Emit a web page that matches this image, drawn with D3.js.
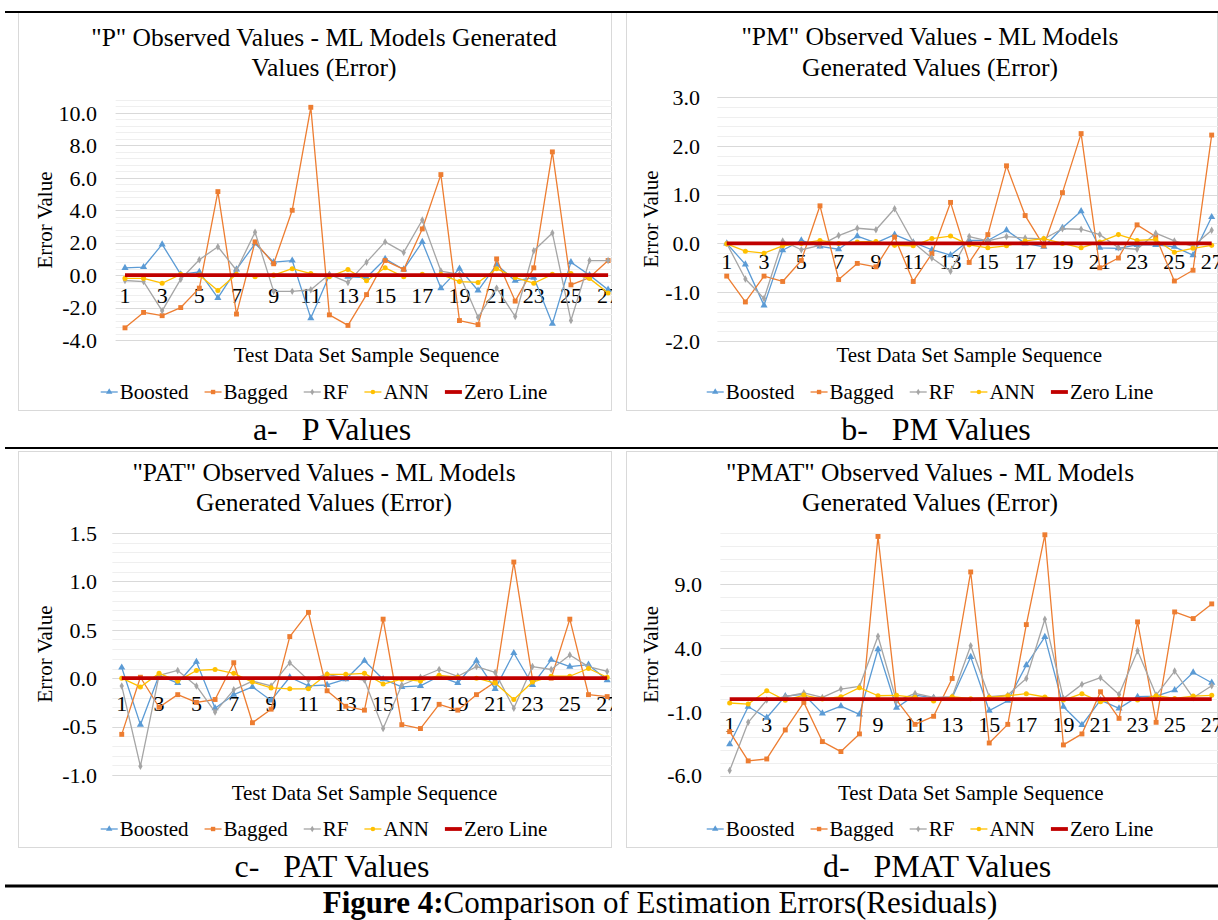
<!DOCTYPE html>
<html><head><meta charset="utf-8">
<script src="https://cdn.jsdelivr.net/npm/d3@7"></script>
<style>
html,body{margin:0;padding:0;background:#fff;}
svg{display:block;font-family:"Liberation Serif","Times New Roman",serif;}
</style></head><body>
<svg id="fig" width="1218" height="920"></svg>
<script>
// ---------- data ----------
const samples = [1,2,3,4,5,6,7,8,9,10,11,12,13,14,15,16,17,18,19,20,21,22,23,24,25,26,27];
const xLabels = [1,3,5,7,9,11,13,15,17,19,21,23,25,27];
const seriesNames = ["Boosted","Bagged","RF","ANN","Zero Line"];
const zeroLine = [0,0,0,0,0,0,0,0,0,0,0,0,0,0,0,0,0,0,0,0,0,0,0,0,0,0,0];

const boostedP = [0.45,0.5,1.9,0.05,0.2,-1.4,0.35,1.95,0.8,0.9,-2.65,0,-0.1,-0.15,1.0,0.35,2.05,-0.8,0.4,-0.95,0.65,-0.35,-0.15,-3.0,0.8,0,-0.9];
const baggedP  = [-3.25,-2.3,-2.5,-2.0,-0.8,5.15,-2.4,2.05,0.7,4.0,10.35,-2.45,-3.1,-1.2,0.9,0.35,2.85,6.2,-2.8,-3.05,1.0,-1.6,0.45,7.6,-0.6,-0.15,0.9];
const rfP      = [-0.33,-0.4,-2.2,-0.25,0.95,1.75,0.3,2.65,-1.0,-1.0,-0.9,0.05,-0.45,0.8,2.05,1.4,3.4,0.25,0.05,-2.6,-0.8,-2.55,1.5,2.6,-2.8,0.9,0.9];
const annP     = [-0.2,-0.2,-0.5,0.05,0,-0.95,0.05,-0.1,0,0.4,0.1,-0.1,0.35,-0.35,0.45,-0.1,0.05,0.05,-0.4,-0.45,0.4,-0.15,-0.5,0.05,0.1,-0.2,-1.1];

const boostedPM = [0,-0.43,-1.27,-0.14,0.06,-0.06,-0.12,0.15,0.01,0.18,0.02,-0.13,-0.24,0.06,0.06,0.27,0,-0.07,0.32,0.66,-0.09,-0.1,-0.03,-0.03,-0.07,-0.24,0.54];
const baggedPM  = [-0.67,-1.2,-0.67,-0.78,-0.35,0.77,-0.74,-0.41,-0.48,0.13,-0.78,-0.21,0.84,-0.39,0.18,1.59,0.57,-0.05,1.04,2.25,-0.5,-0.3,0.38,0.14,-0.77,-0.55,2.22];
const rfPM      = [0,-0.73,-1.13,0.05,-0.13,-0.04,0.16,0.31,0.28,0.71,0.02,-0.3,-0.57,0.14,0.05,0.14,0.11,0.09,0.3,0.29,0.18,-0.09,-0.12,0.21,0.05,-0.06,0.27];
const annPM     = [-0.01,-0.16,-0.2,-0.05,0,0.06,0,0.03,0.04,-0.04,-0.05,0.1,0.15,-0.03,-0.09,-0.05,0.05,0.1,0,-0.09,0.03,0.18,0.06,0.08,-0.18,-0.1,-0.04];

const boostedPAT = [0.11,-0.48,0.03,-0.05,0.17,-0.31,-0.17,-0.09,-0.23,0.01,-0.08,-0.07,-0.01,0.18,-0.01,-0.09,-0.08,0.02,-0.05,0.18,-0.11,0.26,-0.07,0.19,0.12,0.14,-0.02];
const baggedPAT  = [-0.58,0.01,-0.3,-0.17,-0.25,-0.22,0.16,-0.46,-0.32,0.43,0.68,-0.13,-0.29,-0.33,0.61,-0.48,-0.52,-0.27,-0.33,-0.17,-0.04,1.2,-0.01,0,0.61,-0.17,-0.19];
const rfPAT      = [-0.08,-0.91,0.03,0.08,-0.08,-0.35,-0.12,-0.03,-0.08,0.16,-0.02,0.04,0,-0.02,-0.52,-0.07,0.01,0.09,0.02,0.12,0.06,-0.31,0.12,0.09,0.24,0.12,0.07];
const annPAT     = [0,-0.09,0.05,-0.03,0.08,0.09,0.05,-0.04,-0.1,-0.11,-0.11,0.04,0.04,0.05,-0.06,-0.01,-0.03,0.03,0.01,0,-0.05,-0.22,-0.04,0.02,0.02,0.1,0.01];

const boostedPMAT = [-3.54,-0.6,-1.46,0.23,0.36,-1.12,-0.55,-1.2,3.9,-0.68,0.31,0.1,0.1,3.3,-0.91,-0.13,2.66,4.87,-0.6,-2.03,-0.08,-0.73,0.18,0.23,0.7,2.08,1.28];
const baggedPMAT  = [-2.55,-4.84,-4.69,-2.42,-0.26,-3.33,-4.11,-2.73,12.73,-0.08,-1.98,-1.35,1.61,9.95,-3.44,-1.98,5.83,12.86,-3.59,-2.73,0.57,-1.51,6.04,-1.82,6.82,6.3,7.45];
const rfPMAT      = [-5.6,-1.82,-0.08,0.18,0.49,0.13,0.78,0.99,4.92,-0.16,0.44,0.13,0.18,4.17,0.18,0.31,1.61,6.25,0.05,1.15,1.67,0.36,3.78,0.31,2.19,0.1,1.04];
const annPMAT     = [-0.31,-0.39,0.65,-0.1,0.31,0,0.18,0.89,0.26,0.29,0.13,-0.16,0.18,0.03,0.13,0.26,0.42,0.16,-0.08,0.42,-0.21,0,-0.08,0.26,0.05,0.23,0.29];

const ticksP    = [-4,-2,0,2,4,6,8,10];
const ticksPM   = [-2,-1,0,1,2,3];
const ticksPAT  = [-1,-0.5,0,0.5,1,1.5];
const ticksPMAT = [-6,-1,4,9];

const titlesP    = ['"P" Observed Values - ML Models Generated','Values (Error)'];
const titlesPM   = ['"PM" Observed Values - ML Models','Generated Values (Error)'];
const titlesPAT  = ['"PAT" Observed Values - ML Models','Generated Values (Error)'];
const titlesPMAT = ['"PMAT" Observed Values - ML Models','Generated Values (Error)'];
const captions = ["a-   P Values","b-   PM Values","c-   PAT Values","d-   PMAT Values"];
const xAxisTitle = "Test Data Set Sample Sequence";
const yAxisTitle = "Error Value";
const figLabel = "Figure 4:";
const figText = "Comparison of Estimation Errors(Residuals)";

// ---------- styles ----------
const colors = ["#5B9BD5","#ED7D31","#A5A5A5","#FFC000","#C00000"];
const symbols = [d3.symbolTriangle, d3.symbolSquare, d3.symbolDiamond, d3.symbolCircle, null];
const symSizes = [22, 24, 16, 20, 0];

const panels = [
  {series:[boostedP,baggedP,rfP,annP,zeroLine], ticks:ticksP, dom:[-4,10.8], minor:0.4, title:titlesP, caption:captions[0],
   box:[18,12,612,411], plot:{l:115.7,r:617.4,t:100,b:340}, tcx:324, ty:[46,76], yTx:45, tickR:97, axY:362, legY:399, capY:440, capX:332, catDy:28},
  {series:[boostedPM,baggedPM,rfPM,annPM,zeroLine], ticks:ticksPM, dom:[-2,3], minor:0.2, title:titlesPM, caption:captions[1],
   box:[626,12,1218,411], plot:{l:717.4,r:1221,t:97,b:341}, tcx:930, ty:[45,76], yTx:651, tickR:700, axY:362, legY:399, capY:440, capX:936, catDy:26},
  {series:[boostedPAT,baggedPAT,rfPAT,annPAT,zeroLine], ticks:ticksPAT, dom:[-1,1.5], minor:0.1, title:titlesPAT, caption:captions[2],
   box:[18,451,612,848], plot:{l:112.4,r:616.5,t:533,b:775}, tcx:324, ty:[481,511], yTx:45, tickR:97, axY:800, legY:836, capY:877, capX:332, catDy:33},
  {series:[boostedPMAT,baggedPMAT,rfPMAT,annPMAT,zeroLine], ticks:ticksPMAT, dom:[-6,13], minor:1, title:titlesPMAT, caption:captions[3],
   box:[626,451,1218,848], plot:{l:720.4,r:1221,t:533,b:775.7}, tcx:930, ty:[481,511], yTx:651, tickR:702, axY:800, legY:836, capY:877, capX:937, catDy:33}
];

const fmt = d => d3.format(".1f")(d).replace("\u2212","-");

const svg = d3.select("#fig");
svg.append("rect").attr("width",1218).attr("height",920).attr("fill","#fff");

panels.forEach((p,pi)=>{
  const g = svg.append("g");
  const [bx0,by0,bx1,by1] = p.box;
  g.append("rect").attr("x",bx0+0.5).attr("y",by0+0.5).attr("width",bx1-bx0-1).attr("height",by1-by0-1)
    .attr("fill","none").attr("stroke","#d9d9d9").attr("stroke-width",1);
  const clipId = "clip"+pi;
  svg.append("clipPath").attr("id",clipId).append("rect").attr("x",bx0).attr("y",by0).attr("width",bx1-bx0).attr("height",by1-by0);

  const x = d3.scalePoint().domain(samples).range([p.plot.l,p.plot.r]).padding(0.5);
  const y = d3.scaleLinear().domain(p.dom).range([p.plot.b,p.plot.t]);

  const cg = g.append("g").attr("clip-path",`url(#${clipId})`);
  const nMinor = Math.round((p.dom[1]-p.dom[0])/p.minor);
  const minorVals = d3.range(nMinor+1).map(i=>p.dom[0]+i*p.minor);
  cg.selectAll(".mg").data(minorVals).join("line")
    .attr("x1",p.plot.l).attr("x2",p.plot.r)
    .attr("y1",d=>Math.round(y(d))+0.5).attr("y2",d=>Math.round(y(d))+0.5)
    .attr("stroke","#efefef").attr("stroke-width",1);
  cg.selectAll(".Mg").data(p.ticks).join("line")
    .attr("x1",p.plot.l).attr("x2",p.plot.r)
    .attr("y1",d=>Math.round(y(d))+0.5).attr("y2",d=>Math.round(y(d))+0.5)
    .attr("stroke","#d9d9d9").attr("stroke-width",1);

  g.selectAll(".tl").data(p.ticks).join("text")
    .attr("x",p.tickR).attr("y",d=>y(d)).attr("dy","0.35em")
    .attr("text-anchor","end").attr("font-size",22).attr("fill","#000")
    .text(fmt);

  cg.selectAll(".cl").data(xLabels).join("text")
    .attr("x",d=>x(d)).attr("y",y(0)+p.catDy)
    .attr("text-anchor","middle").attr("font-size",22).attr("fill","#000")
    .text(d=>d);

  p.series.forEach((vals,si)=>{
    const pts = samples.map((s,i)=>[x(s),y(vals[i])]);
    const isZero = si===4;
    cg.append("path").attr("d",d3.line()(pts)).attr("fill","none")
      .attr("stroke",colors[si]).attr("stroke-width",isZero?3.8:1.3)
      .attr("stroke-linejoin","round");
    if(!isZero){
      cg.selectAll(null).data(pts).join("path")
        .attr("transform",d=>`translate(${d[0]},${d[1]})`)
        .attr("d",d3.symbol().type(symbols[si]).size(symSizes[si]))
        .attr("fill",colors[si]);
    }
  });

  p.title.forEach((t,i)=>{
    g.append("text").attr("x",p.tcx).attr("y",p.ty[i]).attr("text-anchor","middle")
      .attr("font-size",25.5).attr("fill","#000").text(t);
  });
  g.append("text").attr("x",(p.plot.l+p.plot.r)/2).attr("y",p.axY).attr("text-anchor","middle")
    .attr("font-size",21).attr("fill","#000").text(xAxisTitle);
  g.append("text").attr("transform",`translate(${p.yTx},${(p.plot.t+p.plot.b)/2}) rotate(-90)`)
    .attr("text-anchor","middle").attr("dominant-baseline","central")
    .attr("font-size",21).attr("fill","#000").text(yAxisTitle);

  const lg = g.append("g");
  let cx = 0;
  seriesNames.forEach((nm,si)=>{
    const it = lg.append("g").attr("transform",`translate(${cx},0)`);
    it.append("line").attr("x1",0).attr("x2",17).attr("y1",-7).attr("y2",-7)
      .attr("stroke",colors[si]).attr("stroke-width",si===4?3.8:1.3);
    if(si<4){
      it.append("path").attr("transform","translate(8.5,-7)")
        .attr("d",d3.symbol().type(symbols[si]).size(symSizes[si]*0.8)).attr("fill",colors[si]);
    }
    const tx = it.append("text").attr("x",19).attr("y",0).attr("font-size",21).attr("fill","#000").text(nm);
    const w = tx.node().getComputedTextLength();
    cx += 19 + w + 16;
  });
  const totalW = cx - 16;
  lg.attr("transform",`translate(${p.tcx - totalW/2},${p.legY})`);

  g.append("text").attr("x",p.capX).attr("y",p.capY).attr("text-anchor","middle")
    .attr("font-size",32).attr("fill","#000").style("white-space","pre").text(p.caption);
});

[[12,2],[448,2],[886,3]].forEach(([yy,w])=>{
  svg.append("line").attr("x1",5).attr("x2",1218).attr("y1",yy).attr("y2",yy)
    .attr("stroke","#000").attr("stroke-width",w);
});
const fc = svg.append("text").attr("x",660).attr("y",913).attr("text-anchor","middle")
  .attr("font-size",31).attr("fill","#000");
fc.append("tspan").attr("font-weight","bold").text(figLabel);
fc.append("tspan").text(figText);
</script>
</body></html>
